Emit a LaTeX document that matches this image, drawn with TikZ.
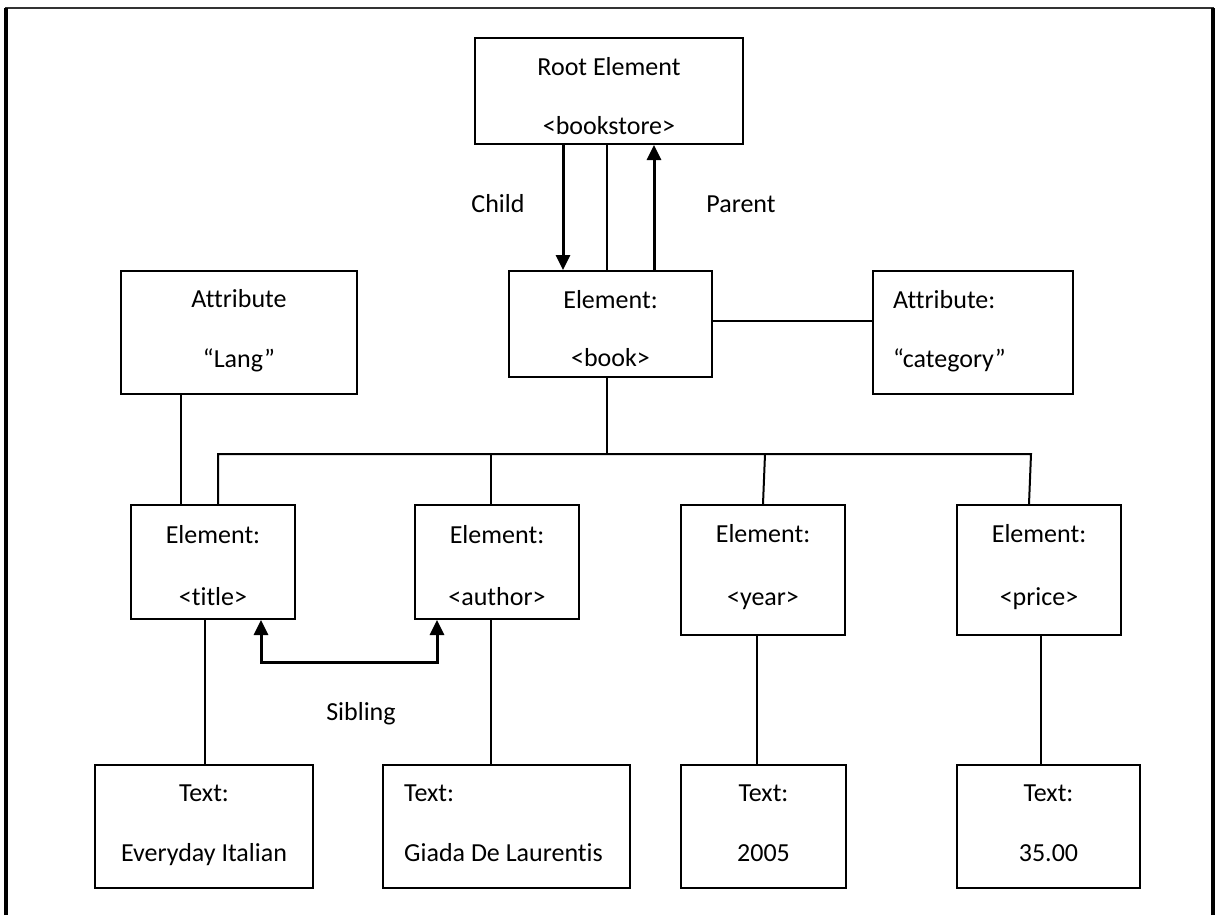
\documentclass[tikz,border=0pt]{standalone}
\usepackage{fontspec}
\setmainfont{Carlito}[Ligatures={NoCommon}]
\usetikzlibrary{arrows.meta}
\begin{document}
\begin{tikzpicture}[x=1pt,y=-1pt,
  box/.style={draw, line width=2pt, inner sep=0pt, rectangle},
  lbl/.style={inner sep=0pt, anchor=base, font=\fontsize{26pt}{30pt}\selectfont},
  lbll/.style={lbl, anchor=base west},
  link/.style={line width=2pt},
  tip/.tip={Triangle[width=14pt,length=15pt]},
  arrowlink/.style={line width=3pt, -tip},
  twoway/.style={line width=3pt, tip-tip}]

\useasboundingbox (0,0) rectangle (1217,915);

% page frame (open at the bottom)
\draw[line width=2pt, black!80] (5,8) -- (1214,8);
\draw[line width=3.5pt] (6,915) -- (6,8);
\draw[line width=3.5pt] (1213,915) -- (1213,8);

% boxes
\node[box, minimum width=268pt, minimum height=106pt] (root)   at (609,91) {};
\node[box, minimum width=203pt, minimum height=106pt] (book)   at (610.5,324) {};
\node[box, minimum width=236pt, minimum height=123pt] (lang)   at (239,332.5) {};
\node[box, minimum width=200pt, minimum height=123pt] (cat)    at (973,332.5) {};
\node[box, minimum width=164pt, minimum height=114pt] (title)  at (213,562) {};
\node[box, minimum width=164pt, minimum height=114pt] (author) at (497,562) {};
\node[box, minimum width=164pt, minimum height=130pt] (year)   at (763,570) {};
\node[box, minimum width=164pt, minimum height=130pt] (price)  at (1039,570) {};
\node[box, minimum width=218pt, minimum height=123pt] (ttitle)  at (204,826.5) {};
\node[box, minimum width=247pt, minimum height=123pt] (tauthor) at (506.5,826.5) {};
\node[box, minimum width=165pt, minimum height=123pt] (tyear)   at (763.5,826.5) {};
\node[box, minimum width=183pt, minimum height=123pt] (tprice)  at (1048.5,826.5) {};

% box texts
\node[lbl] (root-a) at (609,76) {Root Element};
\node[lbl] (root-b) at (609,135) {<bookstore>};
\node[lbl] (book-a) at (610.5,308) {Element:};
\node[lbl] (book-b) at (610.5,366) {<book>};
\node[lbl] (lang-a) at (239,307) {Attribute};
\node[lbl] (lang-b) at (239,367) {“Lang”};
\node[lbll] (cat-a) at (893,308) {Attribute:};
\node[lbll] (cat-b) at (893,367) {“category”};
\node[lbl] (title-a) at (213,543) {Element:};
\node[lbl] (title-b) at (213,605) {<title>};
\node[lbl] (author-a) at (497,543) {Element:};
\node[lbl] (author-b) at (497,605) {<author>};
\node[lbl] (year-a) at (763,542) {Element:};
\node[lbl] (year-b) at (763,605) {<year>};
\node[lbl] (price-a) at (1039,542) {Element:};
\node[lbl] (price-b) at (1039,605) {<price>};
\node[lbl] (ttitle-a) at (204,801) {Text:};
\node[lbl] (ttitle-b) at (204,861) {Everyday Italian};
\node[lbll] (tauthor-a) at (404,801) {Text:};
\node[lbll] (tauthor-b) at (404,861) {Giada De Laurentis};
\node[lbl] (tyear-a) at (763.5,801) {Text:};
\node[lbl] (tyear-b) at (763.5,861) {2005};
\node[lbl] (tprice-a) at (1048.5,801) {Text:};
\node[lbl] (tprice-b) at (1048.5,861) {35.00};

% relation labels
\node[lbl] (childlbl)   at (498,212) {Child};
\node[lbl] (parentlbl)  at (741,212) {Parent};
\node[lbl] (siblinglbl) at (361,720) {Sibling};

% columns and rows used by the connectors
\coordinate (cChild) at (563,0);
\coordinate (cMid) at (607,0);
\coordinate (cParent) at (654,0);
\coordinate (cLang) at (181,0);
\coordinate (cTitleUp) at (218,0);
\coordinate (cAuthor) at (491,0);
\coordinate (cYearUp) at (765,0);
\coordinate (cYearBox) at (763,0);
\coordinate (cPriceUp) at (1031,0);
\coordinate (cPriceBox) at (1029,0);
\coordinate (cTitleDown) at (205,0);
\coordinate (cYearDown) at (757,0);
\coordinate (cPriceDown) at (1041,0);
\coordinate (cSibL) at (261,0);
\coordinate (cSibR) at (437,0);
\coordinate (rBus) at (0,454);
\coordinate (rCat) at (0,321);
\coordinate (rSib) at (0,662);

% root <-> book
\draw[arrowlink] (root.south -| cChild) -- (book.north -| cChild);
\draw[link] (root.south -| cMid) -- (book.north -| cMid);
\draw[arrowlink] (book.north -| cParent) -- (root.south -| cParent);

% book -> category attribute
\draw[link] (book.east |- rCat) -- (cat.west |- rCat);

% book -> children bus
\draw[link] (book.south -| cMid) -- (cMid |- rBus);
\draw[link] (title.north -| cTitleUp) -- (cTitleUp |- rBus) -- (cPriceUp |- rBus) -- (price.north -| cPriceBox);
\draw[link] (cAuthor |- rBus) -- (author.north -| cAuthor);
\draw[link] (cYearUp |- rBus) -- (year.north -| cYearBox);

% title -> Lang attribute
\draw[link] (lang.south -| cLang) -- (title.north -| cLang);

% elements -> text nodes
\draw[link] (title.south -| cTitleDown) -- (ttitle.north -| cTitleDown);
\draw[link] (author.south -| cAuthor) -- (tauthor.north -| cAuthor);
\draw[link] (year.south -| cYearDown) -- (tyear.north -| cYearDown);
\draw[link] (price.south -| cPriceDown) -- (tprice.north -| cPriceDown);

% sibling relation
\draw[twoway] (title.south -| cSibL) -- (cSibL |- rSib) -- (cSibR |- rSib) -- (author.south -| cSibR);
\end{tikzpicture}
\end{document}
